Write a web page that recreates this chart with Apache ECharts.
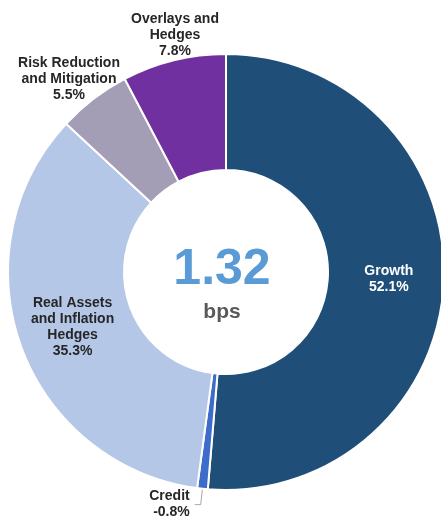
<!DOCTYPE html>
<html>
<head>
<meta charset="utf-8">
<script src="https://cdn.jsdelivr.net/npm/echarts@6/dist/echarts.min.js"></script>
<style>
  html, body { margin: 0; padding: 0; background: #ffffff; }
  #chart { width: 441px; height: 520px; }
</style>
</head>
<body>
<div id="chart"></div>
<script>
// Contribution by asset class, in percent of total
const categories = ['Growth', 'Credit', 'Real Assets\nand Inflation\nHedges', 'Risk Reduction\nand Mitigation', 'Overlays and\nHedges'];
const shares = [52.1, -0.8, 35.3, 5.5, 7.8];
const colors = ['#1f4e79', '#3d6ccb', '#b4c7e7', '#a39db5', '#7030a0'];
const labelColors = ['#ffffff', '#262626', '#262626', '#262626', '#262626'];

// Total shown in the hole of the ring
const totalValue = '1.32';
const totalUnit = 'bps';

const FONT = '"Liberation Sans", Arial, sans-serif';

const pieData = categories.map((name, i) => ({
  name: name,
  value: Math.abs(shares[i]),
  signed: shares[i],
  itemStyle: { color: colors[i] },
  label: {
    position: i === 1 ? 'outside' : 'inside',
    color: labelColors[i]
  },
  labelLine: { show: i === 1 }
}));

// Free-standing labels placed above the two small slices
const floatingLabels = {
  3: { x: 69, y: 79 },
  4: { x: 175, y: 35 }
};

const chart = echarts.init(document.getElementById('chart'), null, { renderer: 'canvas' });

chart.setOption({
  backgroundColor: '#ffffff',
  animation: false,
  graphic: [
    {
      type: 'text',
      style: {
        text: totalValue,
        fill: '#5b9bd5',
        font: 'bold 50px ' + FONT,
        textAlign: 'center',
        textVerticalAlign: 'middle'
      },
      position: [222, 270]
    },
    {
      type: 'text',
      style: {
        text: totalUnit,
        fill: '#595959',
        font: 'bold 21px ' + FONT,
        textAlign: 'center',
        textVerticalAlign: 'middle'
      },
      position: [222, 312]
    }
  ],
  series: [{
    type: 'pie',
    center: [226, 272],
    radius: [102, 218],
    startAngle: 90,
    clockwise: true,
    avoidLabelOverlap: false,
    itemStyle: { borderColor: '#ffffff', borderWidth: 2 },
    label: {
      show: true,
      fontFamily: FONT,
      fontWeight: 'bold',
      fontSize: 14,
      lineHeight: 16,
      align: 'center',
      formatter: p => p.name + '\n' + p.data.signed.toFixed(1) + '%'
    },
    labelLine: {
      show: false,
      length: 16,
      length2: 6,
      lineStyle: { color: '#a6a6a6', width: 1 }
    },
    labelLayout: function (params) {
      const pos = floatingLabels[params.dataIndex];
      if (pos) {
        return { x: pos.x, y: pos.y, align: 'center', verticalAlign: 'middle' };
      }
      return {};
    },
    data: pieData
  }]
});
</script>
</body>
</html>
